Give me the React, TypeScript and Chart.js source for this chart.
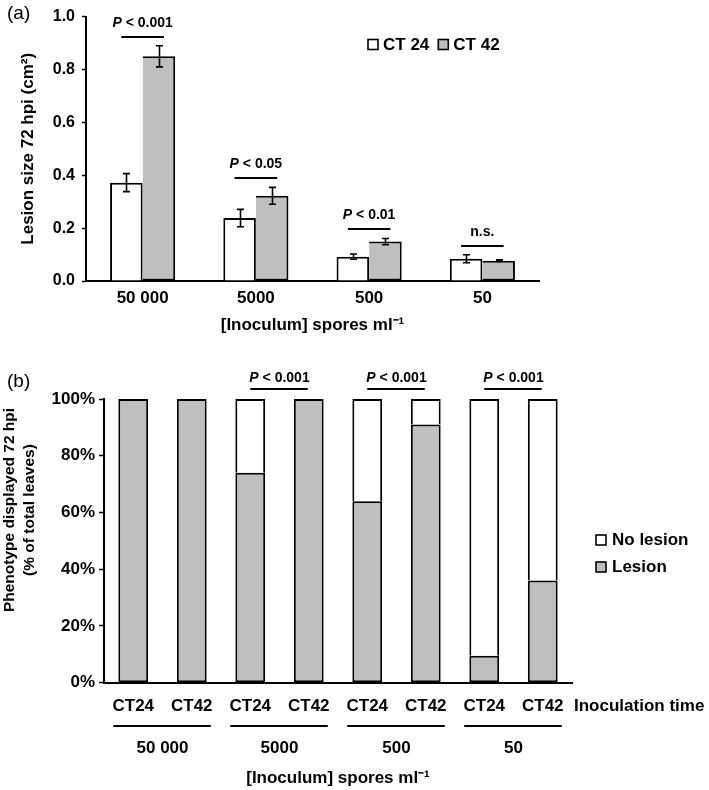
import React, { useEffect, useRef } from "react";
import { Chart, registerables } from "chart.js";

Chart.register(...registerables);

const FONT = "'Liberation Sans', Arial, Helvetica, sans-serif";

// ---------- Panel (a) data ----------
const inoculumLabels = ["50 000", "5000", "500", "50"];
const lesionCT24 = [0.372, 0.238, 0.092, 0.084];
const lesionCT42 = [0.85, 0.322, 0.149, 0.077];
const errCT24 = [0.034, 0.033, 0.01, 0.015];
const errCT42 = [0.04, 0.032, 0.012, 0.003];
const sigA = ["P < 0.001", "P < 0.05", "P < 0.01", "n.s."];
const seriesNamesA = ["CT 24", "CT 42"];

// ---------- Panel (b) data ----------
const timeLabels = ["CT24", "CT42", "CT24", "CT42", "CT24", "CT42", "CT24", "CT42"];
const groupLabelsB = ["50 000", "5000", "500", "50"];
const lesionPct = [100, 100, 74, 100, 64, 91, 9.5, 36];
const noLesionPct = [0, 0, 26, 0, 36, 9, 90.5, 64];
const sigB = ["", "P < 0.001", "P < 0.001", "P < 0.001"];
const yTickStepB = 20;

const GRAY = "#bfbfbf";

function drawSig(ctx: CanvasRenderingContext2D, label: string, cx: number, baseline: number, size: number) {
  ctx.textBaseline = "alphabetic";
  ctx.fillStyle = "#000";
  if (label.startsWith("P")) {
    const rest = label.slice(1);
    ctx.font = `italic bold ${size}px ${FONT}`;
    const w1 = ctx.measureText("P").width;
    ctx.font = `bold ${size}px ${FONT}`;
    const w2 = ctx.measureText(rest).width;
    const x = cx - (w1 + w2) / 2;
    ctx.textAlign = "left";
    ctx.font = `italic bold ${size}px ${FONT}`;
    ctx.fillText("P", x, baseline);
    ctx.font = `bold ${size}px ${FONT}`;
    ctx.fillText(rest, x + w1, baseline);
  } else {
    ctx.textAlign = "center";
    ctx.font = `bold ${size}px ${FONT}`;
    ctx.fillText(label, cx, baseline);
  }
}

const panelAPlugin = {
  id: "panelA",
  afterDatasetsDraw(chart: any) {
    const ctx: CanvasRenderingContext2D = chart.ctx;
    const y = chart.scales.y;
    const area = chart.chartArea;
    const metas = [chart.getDatasetMeta(0), chart.getDatasetMeta(1)];
    const vals = [lesionCT24, lesionCT42];
    const errs = [errCT24, errCT42];
    ctx.save();
    // error bars
    ctx.strokeStyle = "#000";
    ctx.lineWidth = 1.6;
    metas.forEach((m: any, d: number) => {
      m.data.forEach((bar: any, i: number) => {
        const x = Math.round(bar.x) + 0.5;
        const top = y.getPixelForValue(vals[d][i] + errs[d][i]);
        const bot = y.getPixelForValue(vals[d][i] - errs[d][i]);
        ctx.beginPath();
        ctx.moveTo(x, top);
        ctx.lineTo(x, bot);
        ctx.moveTo(x - 3.5, top);
        ctx.lineTo(x + 3.5, top);
        ctx.moveTo(x - 3.5, bot);
        ctx.lineTo(x + 3.5, bot);
        ctx.stroke();
      });
    });
    // significance annotations
    sigA.forEach((label, i) => {
      const b0 = metas[0].data[i];
      const b1 = metas[1].data[i];
      const topVal = Math.max(vals[0][i] + errs[0][i], vals[1][i] + errs[1][i]);
      const ly = Math.round(y.getPixelForValue(topVal) - 9);
      const x0 = b0.x - 5;
      const x1 = b1.x + 5;
      ctx.lineWidth = 2;
      ctx.beginPath();
      ctx.moveTo(x0, ly);
      ctx.lineTo(x1, ly);
      ctx.stroke();
      drawSig(ctx, label, (x0 + x1) / 2, ly - 10, 14);
    });
    // legend
    let lx = area.left + 282;
    const lyc = 44.5;
    ctx.font = `bold 17px ${FONT}`;
    ctx.textBaseline = "middle";
    ctx.textAlign = "left";
    chart.data.datasets.forEach((ds: any) => {
      ctx.fillStyle = ds.backgroundColor;
      ctx.fillRect(lx, lyc - 5, 10, 10);
      ctx.lineWidth = 1.6;
      ctx.strokeStyle = "#000";
      ctx.strokeRect(lx, lyc - 5, 10, 10);
      ctx.fillStyle = "#000";
      ctx.fillText(ds.label, lx + 15, lyc + 0.5);
      lx += 15 + ctx.measureText(ds.label).width + 9;
    });
    // panel letter
    ctx.font = `19px ${FONT}`;
    ctx.fillStyle = "#000";
    ctx.textBaseline = "middle";
    ctx.fillText("(a)", 7, 14);
    ctx.restore();
  },
};

const panelBPlugin = {
  id: "panelB",
  afterDatasetsDraw(chart: any) {
    const ctx: CanvasRenderingContext2D = chart.ctx;
    const y = chart.scales.y;
    const area = chart.chartArea;
    const meta = chart.getDatasetMeta(0);
    ctx.save();
    ctx.strokeStyle = "#000";
    ctx.fillStyle = "#000";
    // significance
    sigB.forEach((label, g) => {
      if (!label) return;
      const b0 = meta.data[2 * g];
      const b1 = meta.data[2 * g + 1];
      const ly = Math.round(y.getPixelForValue(100) - 10);
      ctx.lineWidth = 2;
      ctx.beginPath();
      ctx.moveTo(b0.x, ly);
      ctx.lineTo(b1.x - 1, ly);
      ctx.stroke();
      drawSig(ctx, label, (b0.x + b1.x) / 2, ly - 7, 14);
    });
    // group lines and labels under the x axis
    groupLabelsB.forEach((label, g) => {
      const b0 = meta.data[2 * g];
      const b1 = meta.data[2 * g + 1];
      const gy = Math.round(area.bottom + 43);
      ctx.lineWidth = 2;
      ctx.beginPath();
      ctx.moveTo(b0.x - 20, gy);
      ctx.lineTo(b1.x + 19, gy);
      ctx.stroke();
      ctx.font = `bold 17px ${FONT}`;
      ctx.textAlign = "center";
      ctx.textBaseline = "middle";
      ctx.fillText(label, (b0.x + b1.x) / 2, area.bottom + 65.5);
    });
    ctx.font = `bold 17px ${FONT}`;
    ctx.textAlign = "left";
    ctx.textBaseline = "middle";
    ctx.fillText("Inoculation time", area.right + 2, area.bottom + 23.5);
    // legend (top item = last dataset)
    const items = [...chart.data.datasets].reverse();
    items.forEach((ds: any, k: number) => {
      const cy = 195 + k * 27;
      const lx = area.right + 24;
      ctx.fillStyle = ds.backgroundColor;
      ctx.fillRect(lx, cy - 5, 10, 10);
      ctx.lineWidth = 1.6;
      ctx.strokeRect(lx, cy - 5, 10, 10);
      ctx.fillStyle = "#000";
      ctx.font = `bold 17px ${FONT}`;
      ctx.textAlign = "left";
      ctx.textBaseline = "middle";
      ctx.fillText(ds.label, lx + 16, cy);
    });
    // y-axis title (two lines, rotated)
    const cyT = 165;
    ctx.font = `bold 15.5px ${FONT}`;
    ctx.textAlign = "center";
    ctx.textBaseline = "middle";
    [["Phenotype displayed 72 hpi", 10], ["(% of total leaves)", 30]].forEach(([t, x]) => {
      ctx.save();
      ctx.translate(x as number, cyT);
      ctx.rotate(-Math.PI / 2);
      ctx.fillText(t as string, 0, 0);
      ctx.restore();
    });
    // panel letter
    ctx.font = `19px ${FONT}`;
    ctx.textAlign = "left";
    ctx.fillText("(b)", 7, 37);
    ctx.restore();
  },
};

export default function App() {
  const refA = useRef<HTMLCanvasElement>(null);
  const refB = useRef<HTMLCanvasElement>(null);

  useEffect(() => {
    Chart.defaults.font.family = FONT;
    Chart.defaults.color = "#000";

    const tickFont = (size: number) => ({ size, weight: "bold" as const, family: FONT });

    const chartA = new Chart(refA.current as HTMLCanvasElement, {
      type: "bar",
      data: {
        labels: inoculumLabels,
        datasets: [
          {
            label: seriesNamesA[0],
            data: lesionCT24,
            backgroundColor: "#ffffff",
            borderColor: "#000",
            borderWidth: 2,
            borderSkipped: "bottom",
            categoryPercentage: 0.575,
            barPercentage: 1,
          },
          {
            label: seriesNamesA[1],
            data: lesionCT42,
            backgroundColor: GRAY,
            borderColor: "#000",
            borderWidth: 2,
            borderSkipped: "left",
            categoryPercentage: 0.575,
            barPercentage: 1,
          },
        ],
      },
      options: {
        responsive: false,
        animation: false,
        events: [],
        layout: { padding: { top: 12, right: 170, left: 0, bottom: 0 } },
        plugins: { legend: { display: false }, tooltip: { enabled: false } },
        scales: {
          x: {
            grid: { display: false, drawTicks: false },
            border: { display: true, color: "#000", width: 2 },
            ticks: { color: "#000", font: tickFont(17), padding: 7 },
            title: {
              display: true,
              text: "[Inoculum] spores ml⁻¹",
              color: "#000",
              font: tickFont(17),
              padding: { top: 0, bottom: 9 },
            },
            afterFit: (s: any) => {
              s.height = 64;
            },
          },
          y: {
            min: 0,
            max: 1,
            grid: {
              display: true,
              drawOnChartArea: false,
              drawTicks: true,
              tickLength: 4,
              tickColor: "#000",
              tickWidth: 1.5,
            },
            border: { display: true, color: "#000", width: 2 },
            ticks: {
              stepSize: 0.2,
              padding: 7,
              color: "#000",
              font: tickFont(16),
              callback: (v: any) => Number(v).toFixed(1),
            },
            title: {
              display: true,
              text: "Lesion size 72 hpi (cm²)",
              color: "#000",
              font: tickFont(17),
              padding: { top: 18, bottom: 0 },
            },
            afterFit: (s: any) => {
              s.width = 86;
            },
          },
        },
      } as any,
      plugins: [panelAPlugin],
    });

    const chartB = new Chart(refB.current as HTMLCanvasElement, {
      type: "bar",
      data: {
        labels: timeLabels,
        datasets: [
          {
            label: "Lesion",
            data: lesionPct,
            backgroundColor: GRAY,
            borderColor: "#000",
            borderWidth: 2,
            borderSkipped: false,
            categoryPercentage: 1,
            barPercentage: 0.51,
          },
          {
            label: "No lesion",
            data: noLesionPct,
            backgroundColor: "#ffffff",
            borderColor: "#000",
            borderWidth: 2,
            borderSkipped: "bottom",
            categoryPercentage: 1,
            barPercentage: 0.51,
          },
        ],
      },
      options: {
        responsive: false,
        animation: false,
        events: [],
        layout: { padding: { top: 54, right: 137, left: 0, bottom: 0 } },
        plugins: { legend: { display: false }, tooltip: { enabled: false } },
        scales: {
          x: {
            stacked: true,
            grid: { display: false, drawTicks: false },
            border: { display: true, color: "#000", width: 2 },
            ticks: { color: "#000", font: tickFont(17), padding: 13 },
            title: {
              display: true,
              text: "[Inoculum] spores ml⁻¹",
              color: "#000",
              font: tickFont(17),
              padding: { top: 0, bottom: 1 },
            },
            afterFit: (s: any) => {
              s.height = 107.3;
            },
          },
          y: {
            stacked: true,
            min: 0,
            max: 100,
            grid: {
              display: true,
              drawOnChartArea: false,
              drawTicks: true,
              tickLength: 5,
              tickColor: "#000",
              tickWidth: 1.5,
            },
            border: { display: true, color: "#000", width: 2 },
            ticks: {
              stepSize: yTickStepB,
              padding: 4,
              color: "#000",
              font: tickFont(17),
              callback: (v: any) => `${v}%`,
            },
            afterFit: (s: any) => {
              s.width = 104;
            },
          },
        },
      } as any,
      plugins: [panelBPlugin],
    });

    return () => {
      chartA.destroy();
      chartB.destroy();
    };
  }, []);

  return (
    <div
      style={{
        position: "fixed",
        left: 0,
        top: 0,
        width: 709,
        height: 790,
        background: "#fff",
        overflow: "hidden",
      }}
    >
      <canvas
        ref={refA}
        width={709}
        height={345}
        style={{ position: "absolute", left: 0, top: 0, width: 709, height: 345 }}
      />
      <canvas
        ref={refB}
        width={709}
        height={445}
        style={{ position: "absolute", left: 0, top: 345, width: 709, height: 445 }}
      />
    </div>
  );
}
